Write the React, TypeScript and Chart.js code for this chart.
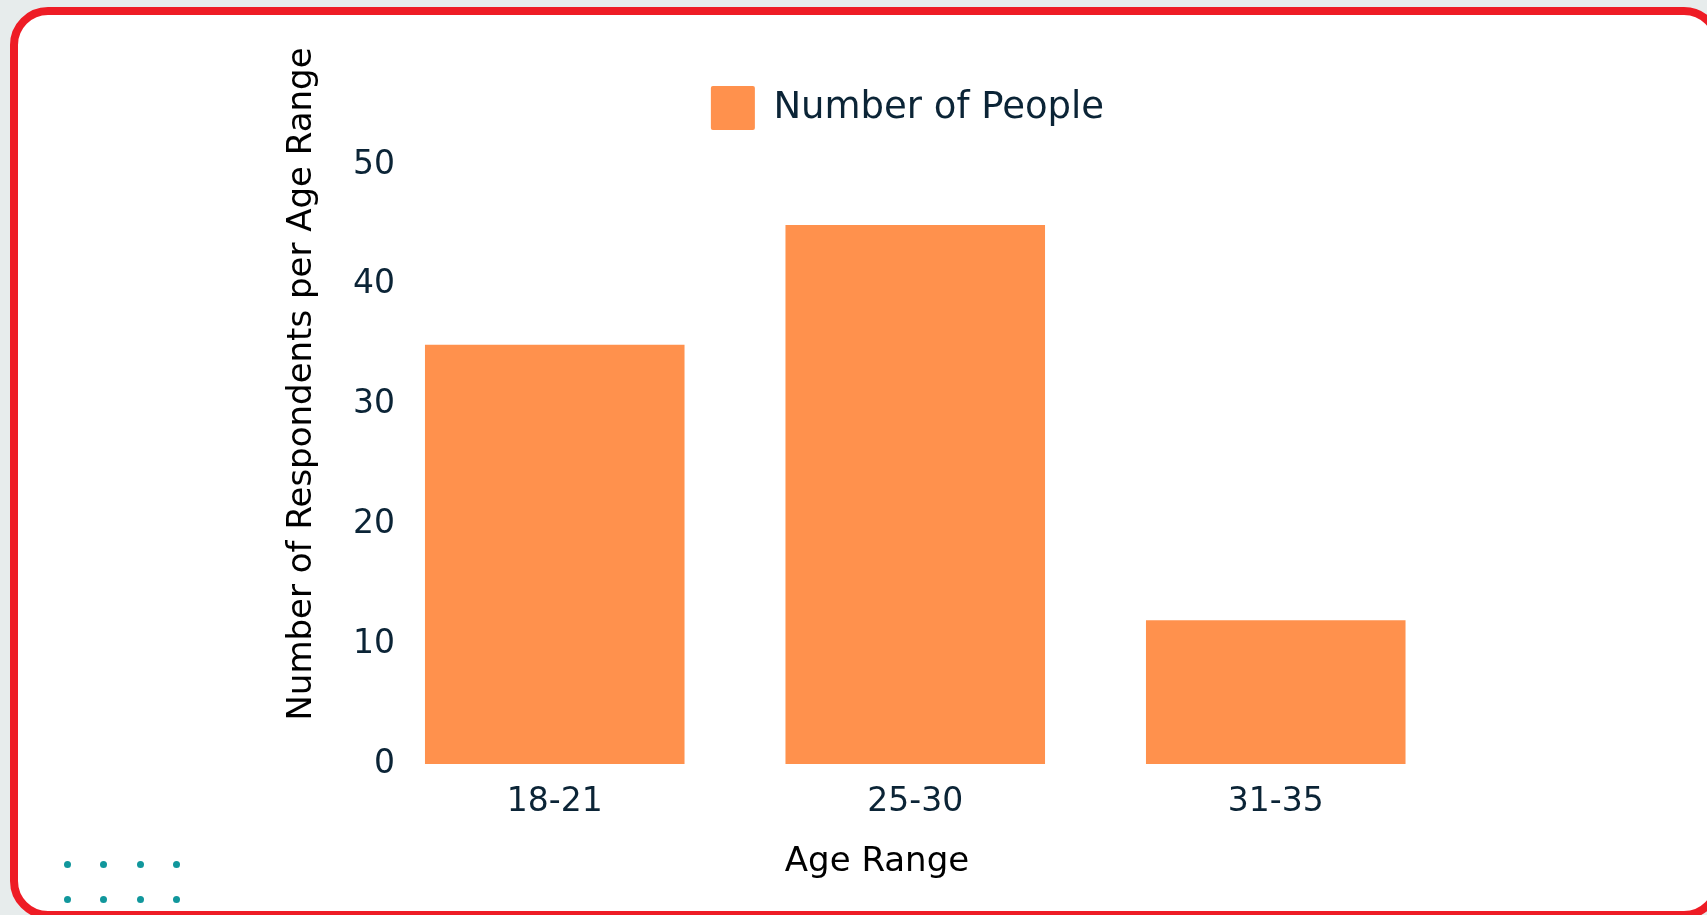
import React, { useEffect, useRef } from 'react';
import { Chart, registerables } from 'chart.js';

Chart.register(...registerables);

// ---- data ----
const categories = ['18-21', '25-30', '31-35'];
const peopleCounts = [35, 45, 12];
const yTicks = [0, 10, 20, 30, 40, 50];
const seriesLabel = 'Number of People';
const xTitle = 'Age Range';
const yTitle = 'Number of Respondents per Age Range';

// ---- style ----
const FONT = "'DejaVu Sans', sans-serif";
const INK = '#0b2436';
const BAR = '#ff914d';
const RED = '#ee1c25';
const TEAL = '#11979c';

const legendSpacer = {
  id: 'legendSpacer',
  beforeInit(chart: any) {
    const legend = chart.legend;
    if (!legend) return;
    const orig = legend.fit;
    legend.fit = function () {
      orig.call(this);
      this.height += 25;
    };
  },
};

const axisTitles = {
  id: 'axisTitles',
  afterDraw(chart: any) {
    const { ctx, chartArea } = chart;
    ctx.save();
    ctx.fillStyle = '#000000';
    ctx.font = `34px ${FONT}`;
    ctx.textAlign = 'center';
    ctx.textBaseline = 'middle';
    ctx.fillText(xTitle, chartArea.left + 502.5, chartArea.bottom + 98.5);
    ctx.translate(chartArea.left - 72, chartArea.top + 219);
    ctx.rotate(-Math.PI / 2);
    ctx.fillText(yTitle, 0, 0);
    ctx.restore();
  },
};

export default function App() {
  const canvasRef = useRef<HTMLCanvasElement | null>(null);

  useEffect(() => {
    document.body.style.margin = '0';
    document.body.style.background = '#e7ecec';
    const canvas = canvasRef.current;
    if (!canvas) return;
    const chart = new Chart(canvas, {
      type: 'bar',
      data: {
        labels: categories,
        datasets: [
          {
            label: seriesLabel,
            data: peopleCounts,
            backgroundColor: BAR,
            borderWidth: 0,
          },
        ],
      },
      options: {
        responsive: false,
        animation: false,
        layout: { padding: { left: 359, right: 251, top: 76, bottom: 91 } },
        plugins: {
          legend: {
            display: true,
            position: 'top',
            labels: {
              boxWidth: 44,
              boxHeight: 44,
              padding: 10,
              color: INK,
              font: { family: FONT, size: 37 },
              useBorderRadius: true,
              borderRadius: 2,
            },
          },
          tooltip: { enabled: false },
        },
        scales: {
          x: {
            grid: { display: false, drawTicks: false },
            border: { display: false },
            ticks: {
              color: INK,
              font: { family: FONT, size: 33 },
              padding: 19,
            },
            afterFit(scale: any) {
              scale.height = 60;
            },
          },
          y: {
            min: yTicks[0],
            max: yTicks[yTicks.length - 1],
            grid: { display: false, drawTicks: false },
            border: { display: false },
            ticks: {
              stepSize: yTicks[1] - yTicks[0],
              color: INK,
              font: { family: FONT, size: 33 },
              mirror: true,
              crossAlign: 'far',
              padding: -21.5,
            },
            afterFit(scale: any) {
              scale.width = 15.5;
            },
          },
        },
      },
      plugins: [legendSpacer, axisTitles],
    } as any);
    return () => chart.destroy();
  }, []);

  const dots: { x: number; y: number }[] = [];
  [864, 899].forEach((y) => [67.5, 103.5, 140, 176.5].forEach((x) => dots.push({ x, y })));

  return (
    <div style={{ position: 'fixed', left: 0, top: 0, width: 1707, height: 915, overflow: 'hidden', background: '#e7ecec' }}>
      <div
        style={{
          position: 'absolute',
          left: 10,
          top: 7,
          width: 1712,
          height: 912,
          boxSizing: 'border-box',
          border: `8px solid ${RED}`,
          borderRadius: 38,
          background: '#ffffff',
        }}
      />
      {dots.map((d, i) => (
        <div
          key={i}
          style={{
            position: 'absolute',
            left: d.x - 3.5,
            top: d.y - 3.5,
            width: 7,
            height: 7,
            borderRadius: '50%',
            background: TEAL,
          }}
        />
      ))}
      <canvas
        ref={canvasRef}
        width={1707}
        height={915}
        style={{ position: 'absolute', left: 0, top: 0, width: 1707, height: 915 }}
      />
    </div>
  );
}
